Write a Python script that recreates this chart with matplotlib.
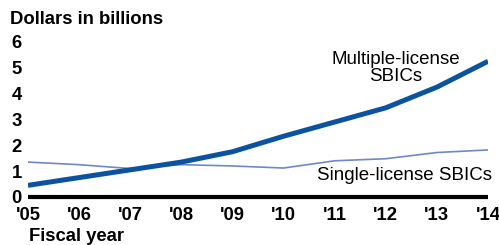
import matplotlib
matplotlib.use('Agg')
import matplotlib.pyplot as plt

plt.rcParams['font.family'] = 'Liberation Sans'

years = ["'05", "'06", "'07", "'08", "'09", "'10", "'11", "'12", "'13", "'14"]
multiple_license = [0.45, 0.75, 1.05, 1.35, 1.75, 2.35, 2.9, 3.45, 4.25, 5.25]
single_license = [1.35, 1.25, 1.1, 1.25, 1.2, 1.12, 1.4, 1.48, 1.72, 1.82]
y_ticks = [0, 1, 2, 3, 4, 5, 6]

fig = plt.figure(figsize=(4.99, 2.45), dpi=100)
ax = fig.add_axes([0.056, 0.196, 0.922, 0.633])

x = list(range(len(years)))
ax.plot(x, single_license, color='#7088c8', linewidth=1.2, solid_capstyle='butt')
ax.plot(x, multiple_license, color='#0b53a0', linewidth=3.6, solid_capstyle='butt')

ax.set_xlim(0, len(years) - 1)
ax.set_ylim(0, 6)
ax.set_yticks(y_ticks)
ax.set_yticklabels([str(t) for t in y_ticks], fontsize=13.3, fontweight='bold')
ax.set_xticks(x)
ax.set_xticklabels(years, fontsize=13.3, fontweight='bold')
ax.tick_params(length=0)
ax.tick_params(axis='x', pad=7)
ax.tick_params(axis='y', pad=4.5)

for side in ['left', 'right', 'top']:
    ax.spines[side].set_visible(False)
ax.spines['bottom'].set_linewidth(3)
ax.spines['bottom'].set_color('black')
ax.spines['bottom'].set_capstyle('butt')

ax.text(7.2, 5.0, 'Multiple-license\nSBICs', fontsize=13.5, ha='center',
        va='center', linespacing=1.0)
ax.text(9.08, 0.85, 'Single-license SBICs', fontsize=13.5, ha='right',
        va='center')

fig.text(0.02, 0.922, 'Dollars in billions', fontsize=13.3,
         fontweight='bold', va='center')
fig.text(0.058, 0.033, 'Fiscal year', fontsize=13.3, fontweight='bold',
         va='center')

plt.savefig('out.png', dpi=100)
plt.close()
